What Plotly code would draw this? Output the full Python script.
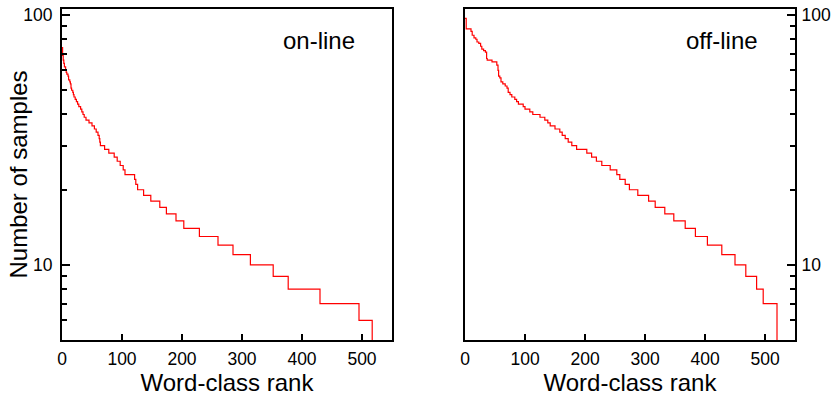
import plotly.graph_objects as go
import math

online_rank = [0, 1, 2, 3, 4, 6, 7, 8, 10, 11, 13, 14, 15, 16, 18, 19, 20, 22, 24, 26,
               28, 31, 33, 35, 37, 40, 45, 50, 54, 57, 60, 62, 63, 64, 71, 78, 87, 92, 97, 102,
               105, 121, 123, 126, 136, 148, 163, 174, 190, 203, 229, 260, 285, 314, 352, 377, 430, 495, 517]
online_count = [74, 69, 66, 64, 62, 60, 59, 58, 57, 55, 54, 53, 51, 50, 49, 48, 47, 46, 45, 44,
                43, 42, 41, 40, 39, 38, 37, 36, 35, 34, 33, 32, 31, 30, 29, 28, 27, 26, 25, 24,
                23, 22, 21, 20, 19, 18, 17, 16, 15, 14, 13, 12, 11, 10, 9, 8, 7, 6, 5]

offline_rank = [0, 2, 10, 12, 15, 18, 20, 23, 26, 28, 31, 34, 36, 37, 45, 53, 55, 56, 58, 60,
                63, 67, 70, 72, 75, 78, 83, 86, 89, 97, 100, 108, 113, 125, 133, 138, 142, 150, 158, 162,
                167, 172, 178, 186, 203, 211, 219, 228, 242, 253, 258, 267, 274, 288, 306, 317, 333, 348, 367, 384,
                404, 428, 450, 468, 486, 497, 520]
offline_count = [97, 88, 86, 83, 81, 80, 78, 77, 75, 73, 72, 71, 67, 66, 65, 63, 60, 57, 56, 54,
                 53, 52, 51, 49, 48, 47, 46, 45, 44, 43, 42, 41, 40, 39, 38, 37, 36, 35, 34, 33,
                 32, 31, 30, 29, 28, 27, 26, 25, 24, 23, 22, 21, 20, 19, 18, 17, 16, 15, 14, 13,
                 12, 11, 10, 9, 8, 7, 5]

x_ticks = [0, 100, 200, 300, 400, 500]
y_major = [10, 100]
y_minor = [5, 6, 7, 8, 9, 20, 30, 40, 50, 60, 70, 80, 90]
panel_labels = ["on-line", "off-line"]
x_title = "Word-class rank"
y_title = "Number of samples"

FONT = "Liberation Sans, Arial, Helvetica, sans-serif"
RED = "#ff0000"
TICK_SIZE = 17.5
BIG = 24

fig = go.Figure()
fig.add_trace(go.Scatter(x=online_rank, y=online_count, mode="lines", line_shape="hv",
                         line=dict(color=RED, width=1.2), xaxis="x", yaxis="y", showlegend=False))
fig.add_trace(go.Scatter(x=offline_rank, y=offline_count, mode="lines", line_shape="hv",
                         line=dict(color=RED, width=1.2), xaxis="x2", yaxis="y2", showlegend=False))

yr = [math.log10(5.01), math.log10(105.7)]

def xaxis_cfg(domain, anchor):
    return dict(domain=domain, anchor=anchor, range=[0, 550], tickmode="array", tickvals=x_ticks,
                ticks="inside", ticklen=6, tickwidth=1.5, tickcolor="black",
                showline=True, linecolor="black", linewidth=2, mirror=True,
                showgrid=False, zeroline=False, ticklabelstandoff=2,
                tickfont=dict(size=TICK_SIZE, color="black", family=FONT),
                title=dict(text=x_title, font=dict(size=BIG, color="black", family=FONT), standoff=5))

def yaxis_cfg(anchor, side, standoff):
    return dict(domain=[0, 1], anchor=anchor, side=side, type="log", range=yr,
                tickmode="array", tickvals=y_major, ticktext=["10", "100"], ticks="inside",
                ticklen=8, tickwidth=1.5, tickcolor="black", showline=True, linecolor="black",
                linewidth=2, mirror=True, showgrid=False, zeroline=False,
                ticklabelstandoff=standoff,
                tickfont=dict(size=TICK_SIZE, color="black", family=FONT),
                minor=dict(tickvals=y_minor, ticks="inside", ticklen=5, tickwidth=1.5, tickcolor="black",
                           showgrid=False))

fig.update_layout(
    width=837, height=401,
    margin=dict(l=62, r=42, t=9, b=61, autoexpand=False),
    paper_bgcolor="white", plot_bgcolor="white",
    font=dict(family=FONT, color="black"),
    xaxis=xaxis_cfg([0, 0.4502], "y"),
    xaxis2=xaxis_cfg([0.5498, 1], "y2"),
    yaxis=yaxis_cfg("x", "left", 4),
    yaxis2=yaxis_cfg("x2", "right", 1),
)

# y-axis title placed as rotated text
fig.add_annotation(text=y_title, xref="paper", yref="paper", x=(18 - 62) / 733, y=0.5,
                   textangle=-90, showarrow=False, xanchor="center", yanchor="middle",
                   font=dict(size=BIG, color="black", family=FONT))

fig.add_annotation(text=panel_labels[0], xref="x domain", yref="y domain", x=0.779, y=0.905,
                   showarrow=False, xanchor="center", yanchor="middle",
                   font=dict(size=BIG, color="black", family=FONT))
fig.add_annotation(text=panel_labels[1], xref="x2 domain", yref="y2 domain", x=0.7803, y=0.905,
                   showarrow=False, xanchor="center", yanchor="middle",
                   font=dict(size=BIG, color="black", family=FONT))

fig.write_html("out.html")
